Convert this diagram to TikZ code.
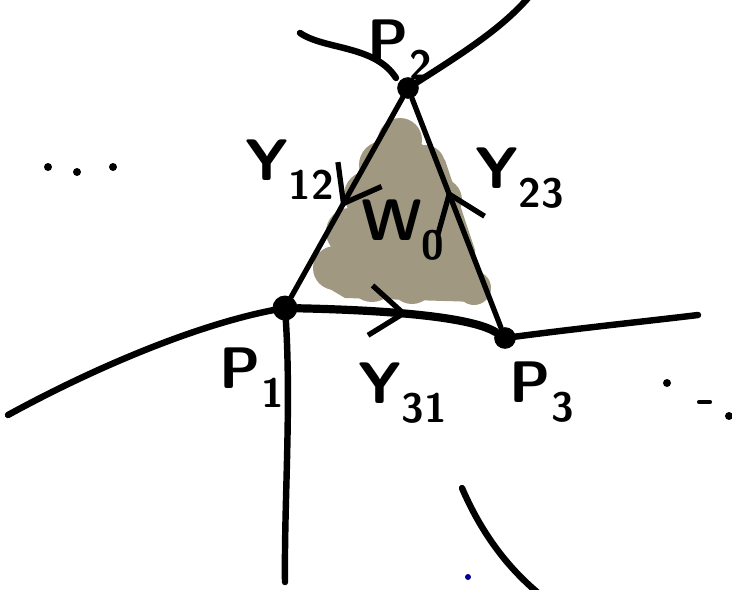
\documentclass[tikz,border=0pt]{standalone}
\usetikzlibrary{arrows.meta,decorations.markings}
\definecolor{blobgray}{RGB}{160,152,128}
\tikzset{
  stroke/.style={line width=5.5pt, line cap=round, line join=round},
  tedge/.style={line width=4.5pt, line cap=round},
  vertex/.style={circle, fill, inner sep=0pt, minimum size=6.5mm},
  lbl/.style={font=\sffamily\bfseries\fontsize{50}{54}\selectfont},
  midarrow/.style={postaction={decorate}, decoration={markings,
      mark=at position #1 with {\arrow{Straight Barb[length=10mm,width=15mm,line width=4.5pt]}}}},
}
\begin{document}
\begin{tikzpicture}[x=0.3mm, y=-0.3mm]
  \useasboundingbox (0,0) rectangle (732,589);

  % shaded face
  \fill[blobgray] (398,128) -- (362,165) -- (338,235) -- (318,282) -- (345,298)
    -- (478,302) -- (475,250) -- (445,160) -- cycle;
  \foreach \cx/\cy/\r in {400/140/22, 383/165/24, 425/165/20, 368/195/24,
      405/200/26, 440/200/22, 350/232/24, 392/245/30, 445/240/25,
      335/268/22, 372/278/24, 412/282/22, 455/275/26, 474/288/17}
    \fill[blobgray] (\cx,\cy) circle (\r*0.3mm);

  % vertices
  \node[vertex] (P2) at (408,88) {};
  \node[vertex, minimum width=7.5mm] (P1) at (285,308) {};
  \node[vertex] (P3) at (505,338) {};
  \coordinate (nw) at (300,33);
  \coordinate (ne) at (528,-2);
  \coordinate (w) at (8,415);
  \coordinate (e) at (698,315);
  \coordinate (s) at (285,582);
  \coordinate (sa) at (462,488);
  \coordinate (sb) at (537,592);

  % outer curves
  \draw[stroke] (P2.center) .. controls (460,55) and (500,30) .. (ne);
  \draw[stroke] (nw) .. controls (325,50) and (375,45) .. (396,78);
  \draw[stroke] (w) .. controls (90,370) and (200,322) .. (P1.center);
  \draw[stroke] (P3.center) .. controls (580,328) and (640,322) .. (e);
  \draw[stroke] (P1.center) .. controls (292,400) and (284,500) .. (s);
  \draw[stroke] (sa) .. controls (480,530) and (505,565) .. (sb);

  % triangle
  \draw[tedge, midarrow=0.55] (P2) -- (P1);
  \draw[tedge, midarrow=0.6] (P3) -- (P2);
  \draw[stroke, line width=7pt, midarrow=0.55] (P1) .. controls (380,310) and (470,316) .. (P3);

  % labels
  \node[lbl] (lp2) at (400,50) {P\textsubscript{2}};
  \node[lbl] (ly12) at (290,170) {Y\textsubscript{12}};
  \node[lbl] (ly23) at (520,178) {Y\textsubscript{23}};
  \node[lbl] (lw0) at (403,230) {W\textsubscript{0}};
  \node[lbl] (lp1) at (252,378) {P\textsubscript{1}};
  \node[lbl] (ly31) at (403,393) {Y\textsubscript{31}};
  \node[lbl] (lp3) at (542,392) {P\textsubscript{3}};

  % dots
  \foreach \dx/\dy in {48/167, 77/172, 113/167, 667/383, 729/416}
    \fill (\dx,\dy) circle (1.2mm);
  \draw[stroke, line width=3.5pt] (699,402) -- (710,402);
  \fill[blue!60!black] (468,577) circle (0.9mm);
\end{tikzpicture}
\end{document}
